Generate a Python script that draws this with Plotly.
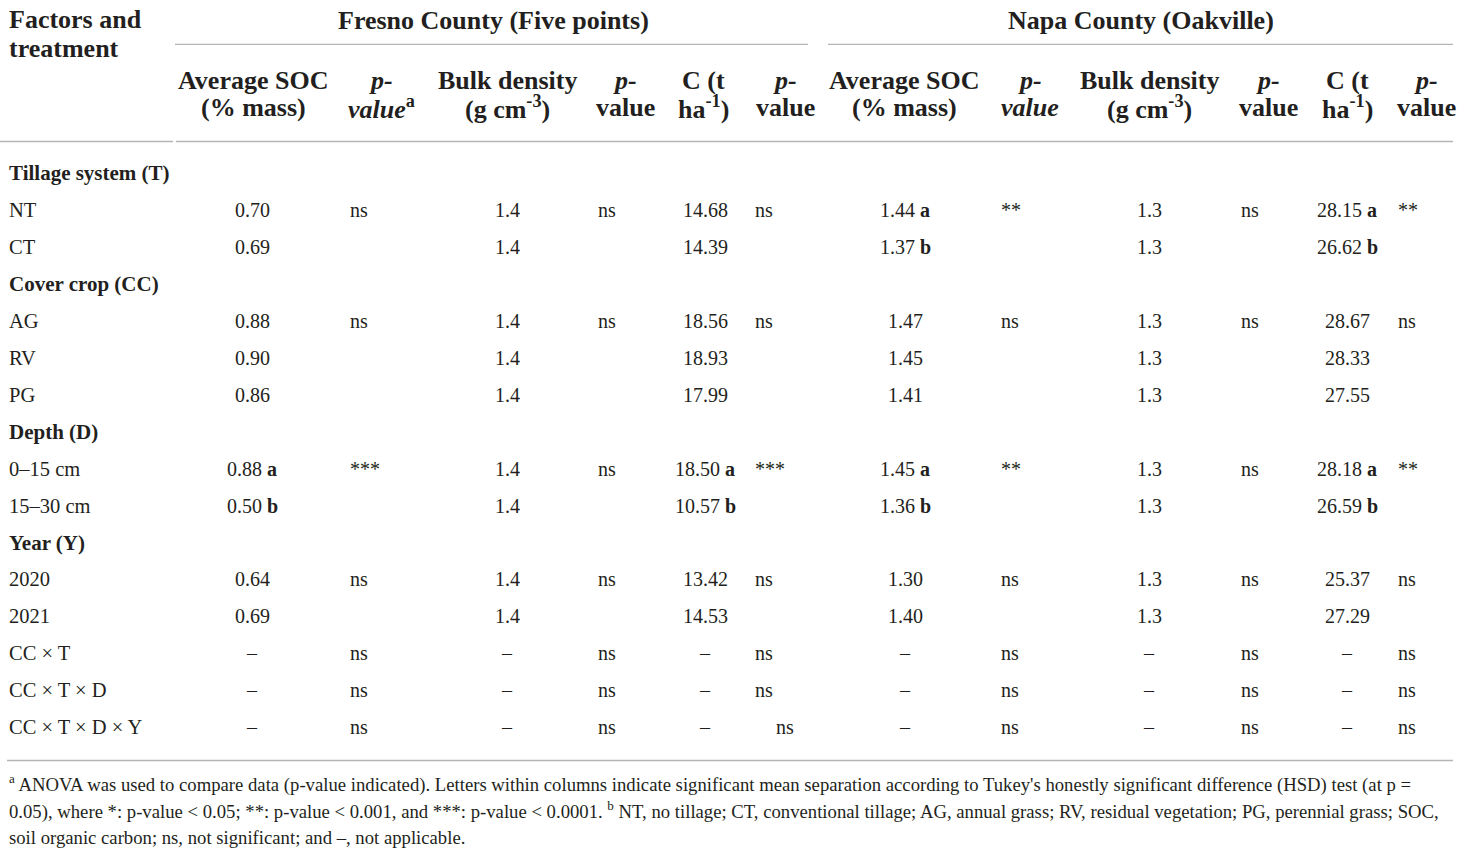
import plotly.graph_objects as go

# ---------------- data ----------------
factors = ["Tillage system (T)", "NT", "CT", "Cover crop (CC)", "AG", "RV", "PG",
           "Depth (D)", "0–15 cm", "15–30 cm", "Year (Y)", "2020", "2021",
           "CC × T", "CC × T × D", "CC × T × D × Y"]
section_labels = ["Tillage system (T)", "Cover crop (CC)", "Depth (D)", "Year (Y)"]

fresno_soc = ["", "0.70", "0.69", "", "0.88", "0.90", "0.86", "", "0.88", "0.50", "", "0.64", "0.69", "–", "–", "–"]
fresno_soc_sig = ["", "", "", "", "", "", "", "", "a", "b", "", "", "", "", "", ""]
fresno_soc_p = ["", "ns", "", "", "ns", "", "", "", "***", "", "", "ns", "", "ns", "ns", "ns"]
fresno_bd = ["", "1.4", "1.4", "", "1.4", "1.4", "1.4", "", "1.4", "1.4", "", "1.4", "1.4", "–", "–", "–"]
fresno_bd_p = ["", "ns", "", "", "ns", "", "", "", "ns", "", "", "ns", "", "ns", "ns", "ns"]
fresno_c = ["", "14.68", "14.39", "", "18.56", "18.93", "17.99", "", "18.50", "10.57", "", "13.42", "14.53", "–", "–", "–"]
fresno_c_sig = ["", "", "", "", "", "", "", "", "a", "b", "", "", "", "", "", ""]
fresno_c_p = ["", "ns", "", "", "ns", "", "", "", "***", "", "", "ns", "", "ns", "ns", "ns"]

napa_soc = ["", "1.44", "1.37", "", "1.47", "1.45", "1.41", "", "1.45", "1.36", "", "1.30", "1.40", "–", "–", "–"]
napa_soc_sig = ["", "a", "b", "", "", "", "", "", "a", "b", "", "", "", "", "", ""]
napa_soc_p = ["", "**", "", "", "ns", "", "", "", "**", "", "", "ns", "", "ns", "ns", "ns"]
napa_bd = ["", "1.3", "1.3", "", "1.3", "1.3", "1.3", "", "1.3", "1.3", "", "1.3", "1.3", "–", "–", "–"]
napa_bd_p = ["", "ns", "", "", "ns", "", "", "", "ns", "", "", "ns", "", "ns", "ns", "ns"]
napa_c = ["", "28.15", "26.62", "", "28.67", "28.33", "27.55", "", "28.18", "26.59", "", "25.37", "27.29", "–", "–", "–"]
napa_c_sig = ["", "a", "b", "", "", "", "", "", "a", "b", "", "", "", "", "", ""]
napa_c_p = ["", "**", "", "", "ns", "", "", "", "**", "", "", "ns", "", "ns", "ns", "ns"]

group_titles = ["Fresno County (Five points)", "Napa County (Oakville)"]
first_header = ["Factors and", "treatment"]
col_headers = [
    ("Average SOC", "(% mass)"),
    ("<i>p-</i>", "<i>value</i><sup>a</sup>"),
    ("Bulk density", "(g cm<sup>-3</sup>)"),
    ("<i>p-</i>", "value"),
    ("C (t", "ha<sup>-1</sup>)"),
    ("<i>p-</i>", "value"),
    ("Average SOC", "(% mass)"),
    ("<i>p-</i>", "<i>value</i>"),
    ("Bulk density", "(g cm<sup>-3</sup>)"),
    ("<i>p-</i>", "value"),
    ("C (t", "ha<sup>-1</sup>)"),
    ("<i>p-</i>", "value"),
]
footnote_lines = [
    "<sup>a</sup> ANOVA was used to compare data (p-value indicated). Letters within columns indicate significant mean separation according to Tukey's honestly significant difference (HSD) test (at p =",
    "0.05), where *: p-value &lt; 0.05; **: p-value &lt; 0.001, and ***: p-value &lt; 0.0001. <sup>b</sup> NT, no tillage; CT, conventional tillage; AG, annual grass; RV, residual vegetation; PG, perennial grass; SOC,",
    "soil organic carbon; ns, not significant; and –, not applicable.",
]

# ---------------- layout constants ----------------
W, H = 1460, 852
FONT = "Liberation Serif"
TXT = "#231f20"
LINE = "#b5b5b5"
row_y0, row_dy = 173, 36.95
hdr_x = [253, 381, 507, 625, 703, 785, 904, 1030, 1149, 1268, 1347, 1426]

# value columns: (values, sig letters, x, anchor)
columns = [
    (fresno_soc, fresno_soc_sig, 252, "center"),
    (fresno_soc_p, None, 348, "left"),
    (fresno_bd, None, 507, "center"),
    (fresno_bd_p, None, 596, "left"),
    (fresno_c, fresno_c_sig, 705, "center"),
    (fresno_c_p, None, 753, "left"),
    (napa_soc, napa_soc_sig, 905, "center"),
    (napa_soc_p, None, 999, "left"),
    (napa_bd, None, 1149, "center"),
    (napa_bd_p, None, 1239, "left"),
    (napa_c, napa_c_sig, 1347, "center"),
    (napa_c_p, None, 1396, "left"),
]
cell_shift = {(15, 5): 21}  # last row's Fresno C p-value sits further right

ann = []


def add(text, x, y, size, anchor="center", bold=False):
    if bold:
        text = "<b>" + text + "</b>"
    ann.append(dict(text=text, x=x, y=y, xref="x", yref="y", xanchor=anchor,
                    yanchor="middle", showarrow=False,
                    font=dict(family=FONT, size=size, color=TXT)))


HS = 26  # header font size
add(first_header[0], 7, 19, HS, "left", True)
add(first_header[1], 7, 48.5, HS, "left", True)
add(group_titles[0], 493, 20, HS, "center", True)
add(group_titles[1], 1141, 20, HS, "center", True)
for (l1, l2), x in zip(col_headers, hdr_x):
    add(l1, x, 80, HS, "center", True)
    add(l2, x, 107, HS, "center", True)

# body
for i, lab in enumerate(factors):
    y = row_y0 + i * row_dy
    is_sec = lab in section_labels
    add(lab, 7, y, 21 if is_sec else 20.5, "left", is_sec)
    for j, (vals, sig, x, anchor) in enumerate(columns):
        v = vals[i]
        if not v:
            continue
        if sig is not None and sig[i]:
            v = v + " <b>" + sig[i] + "</b>"
        add(v, x + cell_shift.get((i, j), 0), y, 20, anchor)

# footnotes
for k, (line, fy) in enumerate(zip(footnote_lines, [783, 810, 837])):
    add(line, 7, fy, 18.7, "left")

lw = 1.3
shapes = [
    dict(type="line", xref="x", yref="y", x0=175, x1=808, y0=44.3, y1=44.3, line=dict(color=LINE, width=lw)),
    dict(type="line", xref="x", yref="y", x0=828, x1=1453, y0=44.3, y1=44.3, line=dict(color=LINE, width=lw)),
    dict(type="line", xref="x", yref="y", x0=0, x1=173, y0=141.5, y1=141.5, line=dict(color=LINE, width=lw)),
    dict(type="line", xref="x", yref="y", x0=176, x1=1453, y0=141.5, y1=141.5, line=dict(color=LINE, width=lw)),
    dict(type="line", xref="x", yref="y", x0=7, x1=1453, y0=760.5, y1=760.5, line=dict(color=LINE, width=lw)),
]

fig = go.Figure()
fig.update_layout(
    width=W, height=H,
    margin=dict(l=0, r=0, t=0, b=0),
    paper_bgcolor="white", plot_bgcolor="white",
    xaxis=dict(range=[0, W], visible=False, fixedrange=True),
    yaxis=dict(range=[H, 0], visible=False, fixedrange=True),
    annotations=ann, shapes=shapes, showlegend=False,
)
fig.write_html("out.html", config={"displayModeBar": False},
               post_script="document.body.style.margin='0';document.body.style.overflow='hidden';")
